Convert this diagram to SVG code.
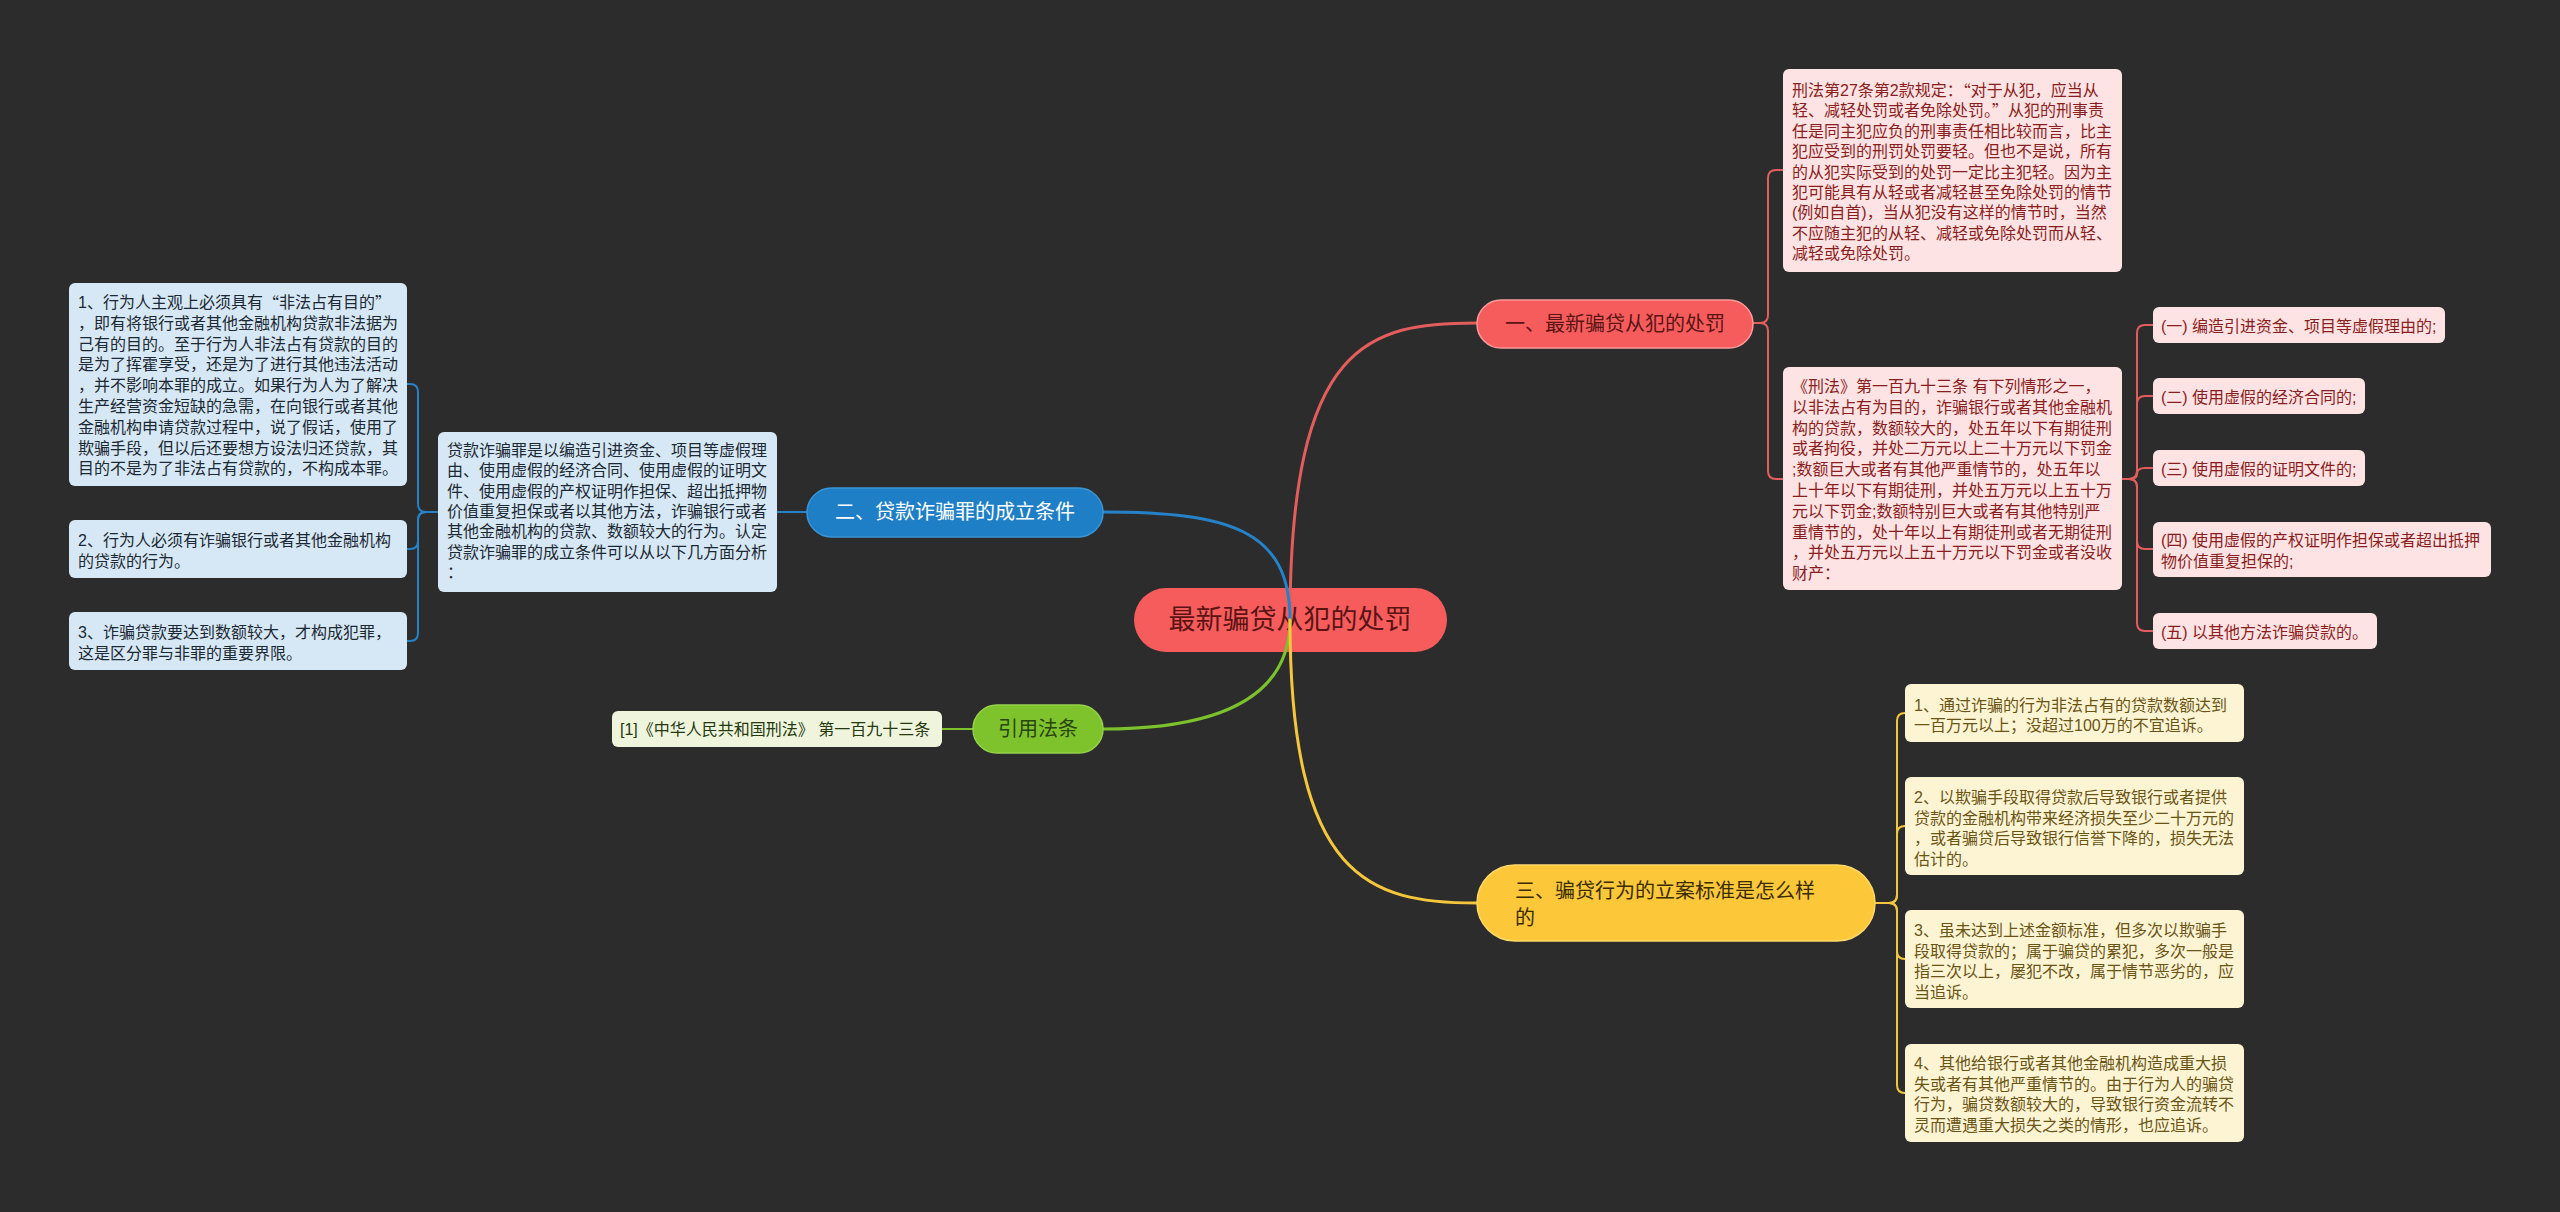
<svg xmlns="http://www.w3.org/2000/svg" width="2560" height="1212" viewBox="0 0 2560 1212">
<style>
text{font-family:"Liberation Sans","Noto Sans CJK SC",sans-serif;dominant-baseline:central}
.q{font-family:"Noto Sans CJK SC",sans-serif}
.lf text{font-size:16px}
.pk rect{fill:#fde3e3}
.pk text{fill:#8a1d1d}
.bl rect{fill:#d6e8f5}
.bl text{fill:#1c2833}
.ye rect{fill:#fdf4d4}
.ye text{fill:#6a5414}
.gr rect{fill:#eef5dc}
.gr text{fill:#26380f}
.br text{font-size:20px}
.c path{fill:none;stroke-width:2;stroke-linecap:round}
.c .m{stroke-width:3}
.r{stroke:#e45d5d}
.b{stroke:#2582c8}
.g{stroke:#7cc22c}
.y{stroke:#f4c63c}
</style>
<rect width="2560" height="1212" fill="#2c2c2c"/>

<g id="center">
<rect x="1134" y="588" width="313" height="64" rx="32" fill="#f65c5c"/>
<text x="1290" y="620" font-size="27" text-anchor="middle" fill="#5a1414">最新骗贷从犯的处罚</text>
</g>

<g id="connectors" class="c">
<path class="m r" d="M1290,620 C1290,340 1370,323 1477,323"/>
<path class="m b" d="M1103,512 C1230,512 1290,530 1290,620"/>
<path class="m g" d="M1103,729 C1215,729 1290,700 1290,620"/>
<path class="m y" d="M1290,620 C1290,880 1370,903 1477,903"/>

<path class="r" d="M1753,323 H1760 Q1768,323 1768,315 V178 Q1768,170 1776,170 H1783"/>
<path class="r" d="M1753,323 H1760 Q1768,323 1768,331 V471 Q1768,479 1776,479 H1783"/>

<path class="r" d="M2122,479 H2129 Q2137,479 2137,471 V333 Q2137,325 2145,325 H2153"/>
<path class="r" d="M2122,479 H2129 Q2137,479 2137,471 V404 Q2137,396 2145,396 H2153"/>
<path class="r" d="M2122,479 H2129 Q2137,479 2137,474 Q2137,468 2145,468 H2153"/>
<path class="r" d="M2122,479 H2129 Q2137,479 2137,487 V541 Q2137,549 2145,549 H2153"/>
<path class="r" d="M2122,479 H2129 Q2137,479 2137,487 V623 Q2137,631 2145,631 H2153"/>

<path class="b" d="M807,512 H777"/>
<path class="b" d="M438,512 H426 Q418,512 418,504 V392 Q418,384 410,384 H407"/>
<path class="b" d="M438,512 H426 Q418,512 418,520 V541 Q418,549 410,549 H407"/>
<path class="b" d="M438,512 H426 Q418,512 418,520 V633 Q418,641 410,641 H407"/>

<path class="g" d="M973,729 H942"/>

<path class="y" d="M1875,903 H1889 Q1897,903 1897,895 V721 Q1897,713 1905,713"/>
<path class="y" d="M1875,903 H1889 Q1897,903 1897,895 V834 Q1897,826 1905,826"/>
<path class="y" d="M1875,903 H1889 Q1897,903 1897,911 V951 Q1897,959 1905,959"/>
<path class="y" d="M1875,903 H1889 Q1897,903 1897,911 V1085 Q1897,1093 1905,1093"/>
</g>

<g id="b1" class="br">
<rect x="1477" y="300" width="276" height="48" rx="24" fill="#f65c5c" stroke="#f79a9a" stroke-width="1.5"/>
<text x="1615" y="324" text-anchor="middle" fill="#5a1414">一、最新骗贷从犯的处罚</text>
</g>
<g id="b2" class="br">
<rect x="807" y="488" width="296" height="49" rx="24.5" fill="#1f7fc6" stroke="#3a95d6" stroke-width="1.5"/>
<text x="955" y="512" text-anchor="middle" fill="#ffffff">二、贷款诈骗罪的成立条件</text>
</g>
<g id="b3" class="br">
<rect x="973" y="705" width="130" height="48" rx="24" fill="#7ec32c" stroke="#95d24a" stroke-width="1.5"/>
<text x="1038" y="729" text-anchor="middle" fill="#2a4410">引用法条</text>
</g>
<g id="b4" class="br">
<rect x="1477" y="865" width="398" height="76" rx="38" fill="#fcc83a" stroke="#fdd867" stroke-width="1.5"/>
<text fill="#3a2c00"><tspan x="1515" y="891">三、骗贷行为的立案标准是怎么样</tspan><tspan x="1515" y="918">的</tspan></text>
</g>

<g id="r1" class="lf pk">
<rect x="1783" y="69" width="339" height="203" rx="6"/>
<text><tspan x="1792" y="90">刑法第27条第2款规定：<tspan class="q">“</tspan>对于从犯，应当从</tspan><tspan x="1792" y="110.4">轻、减轻处罚或者免除处罚。<tspan class="q">”</tspan>从犯的刑事责</tspan><tspan x="1792" y="130.8">任是同主犯应负的刑事责任相比较而言，比主</tspan><tspan x="1792" y="151.2">犯应受到的刑罚处罚要轻。但也不是说，所有</tspan><tspan x="1792" y="171.6">的从犯实际受到的处罚一定比主犯轻。因为主</tspan><tspan x="1792" y="192">犯可能具有从轻或者减轻甚至免除处罚的情节</tspan><tspan x="1792" y="212.4">(例如自首)，当从犯没有这样的情节时，当然</tspan><tspan x="1792" y="232.8">不应随主犯的从轻、减轻或免除处罚而从轻、</tspan><tspan x="1792" y="253.2">减轻或免除处罚。</tspan></text>
</g>
<g id="r2" class="lf pk">
<rect x="1783" y="367" width="339" height="223" rx="6"/>
<text><tspan x="1792" y="386">《刑法》第一百九十三条 有下列情形之一，</tspan><tspan x="1792" y="406.8">以非法占有为目的，诈骗银行或者其他金融机</tspan><tspan x="1792" y="427.6">构的贷款，数额较大的，处五年以下有期徒刑</tspan><tspan x="1792" y="448.4">或者拘役，并处二万元以上二十万元以下罚金</tspan><tspan x="1792" y="469.2">;数额巨大或者有其他严重情节的，处五年以</tspan><tspan x="1792" y="490">上十年以下有期徒刑，并处五万元以上五十万</tspan><tspan x="1792" y="510.8">元以下罚金;数额特别巨大或者有其他特别严</tspan><tspan x="1792" y="531.6">重情节的，处十年以上有期徒刑或者无期徒刑</tspan><tspan x="1792" y="552.4">，并处五万元以上五十万元以下罚金或者没收</tspan><tspan x="1792" y="573.2">财产：</tspan></text>
</g>
<g id="r2a" class="lf pk">
<rect x="2153" y="307" width="292" height="36" rx="6"/>
<text x="2161" y="326">(一) 编造引进资金、项目等虚假理由的;</text>
</g>
<g id="r2b" class="lf pk">
<rect x="2153" y="378" width="212" height="36" rx="6"/>
<text x="2161" y="397">(二) 使用虚假的经济合同的;</text>
</g>
<g id="r2c" class="lf pk">
<rect x="2153" y="450" width="212" height="36" rx="6"/>
<text x="2161" y="469">(三) 使用虚假的证明文件的;</text>
</g>
<g id="r2d" class="lf pk">
<rect x="2153" y="522" width="338" height="55" rx="6"/>
<text><tspan x="2161" y="540">(四) 使用虚假的产权证明作担保或者超出抵押</tspan><tspan x="2161" y="561">物价值重复担保的;</tspan></text>
</g>
<g id="r2e" class="lf pk">
<rect x="2153" y="613" width="224" height="36" rx="6"/>
<text x="2161" y="632">(五) 以其他方法诈骗贷款的。</text>
</g>

<g id="m1" class="lf bl">
<rect x="438" y="432" width="339" height="160" rx="6"/>
<text><tspan x="447" y="450">贷款诈骗罪是以编造引进资金、项目等虚假理</tspan><tspan x="447" y="470.3">由、使用虚假的经济合同、使用虚假的证明文</tspan><tspan x="447" y="490.6">件、使用虚假的产权证明作担保、超出抵押物</tspan><tspan x="447" y="510.9">价值重复担保或者以其他方法，诈骗银行或者</tspan><tspan x="447" y="531.2">其他金融机构的贷款、数额较大的行为。认定</tspan><tspan x="447" y="551.5">贷款诈骗罪的成立条件可以从以下几方面分析</tspan><tspan x="447" y="571.8">：</tspan></text>
</g>
<g id="l1" class="lf bl">
<rect x="69" y="283" width="338" height="203" rx="6"/>
<text><tspan x="78" y="302">1、行为人主观上必须具有<tspan class="q">“</tspan>非法占有目的<tspan class="q">”</tspan></tspan><tspan x="78" y="322.8">，即有将银行或者其他金融机构贷款非法据为</tspan><tspan x="78" y="343.6">己有的目的。至于行为人非法占有贷款的目的</tspan><tspan x="78" y="364.4">是为了挥霍享受，还是为了进行其他违法活动</tspan><tspan x="78" y="385.2">，并不影响本罪的成立。如果行为人为了解决</tspan><tspan x="78" y="406">生产经营资金短缺的急需，在向银行或者其他</tspan><tspan x="78" y="426.8">金融机构申请贷款过程中，说了假话，使用了</tspan><tspan x="78" y="447.6">欺骗手段，但以后还要想方设法归还贷款，其</tspan><tspan x="78" y="468.4">目的不是为了非法占有贷款的，不构成本罪。</tspan></text>
</g>
<g id="l2" class="lf bl">
<rect x="69" y="520" width="338" height="58" rx="6"/>
<text><tspan x="78" y="540">2、行为人必须有诈骗银行或者其他金融机构</tspan><tspan x="78" y="560.5">的贷款的行为。</tspan></text>
</g>
<g id="l3" class="lf bl">
<rect x="69" y="612" width="338" height="58" rx="6"/>
<text><tspan x="78" y="632">3、诈骗贷款要达到数额较大，才构成犯罪，</tspan><tspan x="78" y="652.5">这是区分罪与非罪的重要界限。</tspan></text>
</g>

<g id="g1" class="lf gr">
<rect x="612" y="711" width="330" height="36" rx="6"/>
<text x="620" y="729">[1]《中华人民共和国刑法》 第一百九十三条</text>
</g>

<g id="y1" class="lf ye">
<rect x="1905" y="684" width="339" height="58" rx="6"/>
<text><tspan x="1914" y="705">1、通过诈骗的行为非法占有的贷款数额达到</tspan><tspan x="1914" y="725">一百万元以上；没超过100万的不宜追诉。</tspan></text>
</g>
<g id="y2" class="lf ye">
<rect x="1905" y="777" width="339" height="98" rx="6"/>
<text><tspan x="1914" y="797">2、以欺骗手段取得贷款后导致银行或者提供</tspan><tspan x="1914" y="817.5">贷款的金融机构带来经济损失至少二十万元的</tspan><tspan x="1914" y="838">，或者骗贷后导致银行信誉下降的，损失无法</tspan><tspan x="1914" y="858.5">估计的。</tspan></text>
</g>
<g id="y3" class="lf ye">
<rect x="1905" y="910" width="339" height="98" rx="6"/>
<text><tspan x="1914" y="930">3、虽未达到上述金额标准，但多次以欺骗手</tspan><tspan x="1914" y="950.7">段取得贷款的；属于骗贷的累犯，多次一般是</tspan><tspan x="1914" y="971.4">指三次以上，屡犯不改，属于情节恶劣的，应</tspan><tspan x="1914" y="992">当追诉。</tspan></text>
</g>
<g id="y4" class="lf ye">
<rect x="1905" y="1044" width="339" height="98" rx="6"/>
<text><tspan x="1914" y="1063">4、其他给银行或者其他金融机构造成重大损</tspan><tspan x="1914" y="1083.7">失或者有其他严重情节的。由于行为人的骗贷</tspan><tspan x="1914" y="1104.4">行为，骗贷数额较大的，导致银行资金流转不</tspan><tspan x="1914" y="1125">灵而遭遇重大损失之类的情形，也应追诉。</tspan></text>
</g>
</svg>
